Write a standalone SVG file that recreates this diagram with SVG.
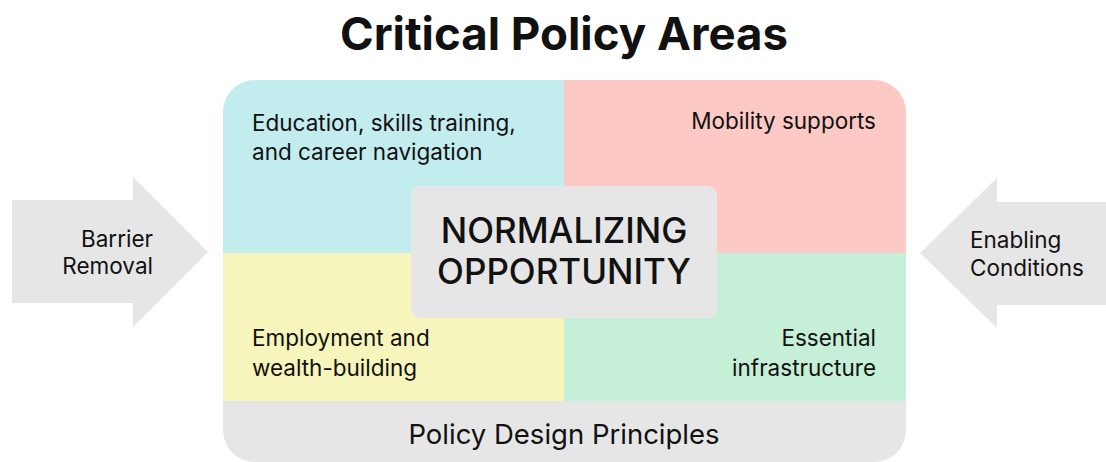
<svg xmlns="http://www.w3.org/2000/svg" width="1106" height="462" viewBox="0 0 1106 462">
<style>
text{font-family:Inter,"Liberation Sans",sans-serif;fill:#111}
.t{font-size:22.5px}
.c{font-size:35px;font-weight:500}
.arr{fill:#e6e6e6}
</style>
<defs>
<clipPath id="frame"><rect x="223" y="80" width="683" height="382" rx="32"/></clipPath>
</defs>
<rect width="1106" height="462" fill="#fff"/>
<text x="564" y="50" text-anchor="middle" style="font-size:45.6px;font-weight:700">Critical Policy Areas</text>
<g id="barrier">
<polygon class="arr" points="12,200 133,200 133,177 208,252 133,327 133,303 12,303"/>
<text class="t" x="153" y="247" text-anchor="end">Barrier</text>
<text class="t" x="153" y="274" text-anchor="end">Removal</text>
</g>
<g id="enabling">
<polygon class="arr" points="1106,202 997,202 997,178 920,253 997,328 997,305 1106,305"/>
<text class="t" x="970" y="248">Enabling</text>
<text class="t" x="970" y="276">Conditions</text>
</g>
<g clip-path="url(#frame)">
<g id="education"><rect x="223" y="80" width="341" height="173" fill="#c3ecef"/>
<text class="t" x="252" y="131">Education, skills training,</text>
<text class="t" x="252" y="160">and career navigation</text></g>
<g id="mobility"><rect x="564" y="80" width="342" height="173" fill="#fdc9c4"/>
<text class="t" x="876" y="129" text-anchor="end">Mobility supports</text></g>
<g id="employment"><rect x="223" y="253" width="341" height="148" fill="#f6f5bb"/>
<text class="t" x="252" y="346">Employment and</text>
<text class="t" x="252" y="376">wealth-building</text></g>
<g id="infrastructure"><rect x="564" y="253" width="342" height="148" fill="#c5efd6"/>
<text class="t" x="876" y="346" text-anchor="end">Essential</text>
<text class="t" x="876" y="376" text-anchor="end">infrastructure</text></g>
<g id="principles"><rect x="223" y="401" width="683" height="61" fill="#e6e6e6"/>
<text x="564" y="444" text-anchor="middle" style="font-size:27.5px">Policy Design Principles</text></g>
</g>
<g id="center">
<rect x="411" y="186" width="306" height="132" rx="9" fill="#e6e6e6"/>
<text class="c" x="564" y="243" text-anchor="middle">NORMALIZING</text>
<text class="c" x="564" y="284" text-anchor="middle">OPPORTUNITY</text>
</g>
<g id="connectors"/>
</svg>
